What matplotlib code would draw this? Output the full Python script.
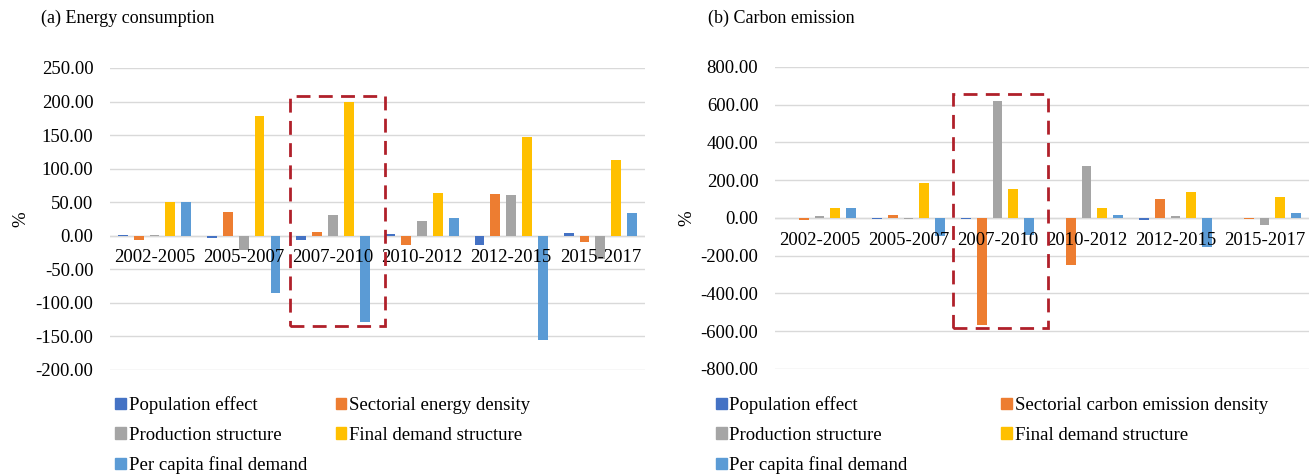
import matplotlib
matplotlib.use('Agg')
import matplotlib.pyplot as plt
import numpy as np
from matplotlib.patches import Rectangle, Patch

plt.rcParams['font.family'] = ['Liberation Serif', 'DejaVu Serif']

periods = ['2002-2005', '2005-2007', '2007-2010', '2010-2012', '2012-2015', '2015-2017']

# (a) energy consumption, %
energy_pop = [1.5, -3.5, -7, 2, -14, 3.5]
energy_sect = [-7, 35, 5, -13.5, 62, -9.5]
energy_prod = [1.5, -21, 30.5, 22.5, 60.5, -34]
energy_final = [50, 178.5, 200, 63.5, 147, 112.5]
energy_percap = [50, -86, -128, 26, -156, 33.5]

# (b) carbon emission, %
carbon_pop = [0.5, -6, -5, 0.5, -12, 0.5]
carbon_sect = [-12, 18, -566, -248, 103, -4]
carbon_prod = [12, -6, 619, 276, 12, -37]
carbon_final = [53, 186, 153, 53, 136, 110]
carbon_percap = [53, -95, -92, 18, -153, 28]

colors = ['#4472C4', '#ED7D31', '#A5A5A5', '#FFC000', '#5B9BD5']
red = '#B0202A'
fs = 13.5


def draw_panel(ax, series, names, yticks, title, title_x, box):
    x = np.arange(len(periods))
    pitch = 0.178
    width = 0.11
    for k, (vals, col) in enumerate(zip(series, colors)):
        ax.bar(x + (k - 2) * pitch, vals, width=width, color=col, zorder=3)
    ax.set_xlim(-0.5, len(periods) - 0.5)
    ax.set_ylim(yticks[0], yticks[-1])
    ax.set_yticks(yticks)
    ax.set_yticklabels(['%.2f' % v for v in yticks], fontsize=fs)
    ax.tick_params(axis='y', length=0, pad=12)
    ax.set_xticks([])
    ax.grid(axis='y', color='#D9D9D9', linewidth=1.0, zorder=0)
    for s in ax.spines.values():
        s.set_visible(False)
    ax.axhline(0, color='#D9D9D9', linewidth=1.0, zorder=1)
    for i, p in enumerate(periods):
        ax.annotate(p, (i, 0), xytext=(0, -16), textcoords='offset points',
                    ha='center', va='center', fontsize=fs, zorder=5)
    ax.set_ylabel('%', fontsize=fs, labelpad=4)
    ax.figure.text(title_x, 0.962, title, fontsize=fs - 0.5, va='center', ha='left')
    ax.add_patch(Rectangle((box[0], box[2]), box[1] - box[0], box[3] - box[2],
                           fill=False, edgecolor=red, linewidth=2.0,
                           linestyle=(0, (5, 3)), zorder=6, clip_on=False))
    handles = [Patch(color=c) for c in colors]
    order = [0, 2, 4, 1, 3]
    return [handles[i] for i in order], [names[i] for i in order]


fig = plt.figure(figsize=(13.12, 4.76), dpi=100)
ax1 = fig.add_axes([0.0838, 0.2227, 0.4078, 0.6345])
ax2 = fig.add_axes([0.5907, 0.2248, 0.4070, 0.6345])

names1 = ['Population effect', 'Sectorial energy density', 'Production structure',
          'Final demand structure', 'Per capita final demand']
names2 = ['Population effect', 'Sectorial carbon emission density', 'Production structure',
          'Final demand structure', 'Per capita final demand']

h1, l1 = draw_panel(ax1, [energy_pop, energy_sect, energy_prod, energy_final, energy_percap],
                    names1, list(range(-200, 251, 50)), '(a) Energy consumption', 0.031,
                    (1.52, 2.59, -134, 208))
h2, l2 = draw_panel(ax2, [carbon_pop, carbon_sect, carbon_prod, carbon_final, carbon_percap],
                    names2, list(range(-800, 801, 200)), '(b) Carbon emission', 0.54,
                    (1.5, 2.57, -585, 655))

fig.legend(h1, l1, ncol=2, loc='upper left', bbox_to_anchor=(0.088, 0.168), frameon=False,
           fontsize=fs, handlelength=0.55, handleheight=0.55, handletextpad=0.15,
           columnspacing=1.55, labelspacing=0.68, borderpad=0, borderaxespad=0)
fig.legend(h2, l2, ncol=2, loc='upper left', bbox_to_anchor=(0.546, 0.168), frameon=False,
           fontsize=fs, handlelength=0.55, handleheight=0.55, handletextpad=0.15,
           columnspacing=5.0, labelspacing=0.68, borderpad=0, borderaxespad=0)

fig.savefig('out.png', dpi=100)
